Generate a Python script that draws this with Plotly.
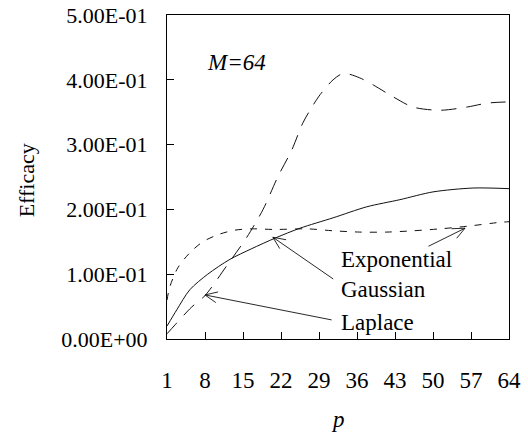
import math
import plotly.graph_objects as go

# Data
p_lap = [1, 2.5, 5.5, 8, 12, 15.7, 18.7, 21.4, 24, 26, 27.7, 29.2, 31.6, 33.5, 36.5, 39, 42.6, 46.3, 51.3, 56.3, 60, 64]
laplace = [0.008, 0.022, 0.049, 0.067, 0.113, 0.157, 0.2, 0.25, 0.292, 0.333, 0.358, 0.377, 0.40, 0.41, 0.403, 0.392, 0.374, 0.358, 0.353, 0.358, 0.364, 0.366]

p_gau = [1, 2.8, 5.2, 8.5, 12.6, 16.5, 21, 25.5, 31.6, 37.8, 43.9, 50, 57.4, 64]
gaussian = [0.02, 0.045, 0.076, 0.1, 0.123, 0.139, 0.156, 0.171, 0.187, 0.204, 0.215, 0.227, 0.233, 0.232]

p_exp = [1, 1.5, 3, 5.2, 7.6, 10.4, 13.5, 16.8, 20.8, 26.8, 31.6, 36.5, 41.5, 46.3, 51.3, 56.3, 62.3, 64]
exponential = [0.06, 0.08, 0.11, 0.133, 0.15, 0.161, 0.168, 0.17, 0.169, 0.17, 0.167, 0.165, 0.165, 0.167, 0.17, 0.174, 0.18, 0.181]

x_ticks = [1, 8, 15, 22, 29, 36, 43, 50, 57, 64]
y_ticks = [0, 0.1, 0.2, 0.3, 0.4, 0.5]
y_tick_text = ["0.00E+00", "1.00E-01", "2.00E-01", "3.00E-01", "4.00E-01", "5.00E-01"]

# label texts and arrow (head p, head value, tail p, tail value)
labels = ["Exponential", "Gaussian", "Laplace"]
label_y = [0.123, 0.077, 0.025]
arrows = [(55.9, 0.171, 48.9, 0.142), (20.5, 0.157, 31.9, 0.091), (8, 0.068, 31.6, 0.029)]

FONT = "Liberation Serif"
LC = "#111111"
W, H = 528, 438
ML, MR, MT, MB = 167, 19, 15, 99
XR, YR = (1, 64), (0, 0.5)
sx = (W - ML - MR) / (XR[1] - XR[0])
sy = (H - MT - MB) / (YR[1] - YR[0])

fig = go.Figure()
fig.add_trace(go.Scatter(x=p_lap, y=laplace, mode="lines", name="Laplace",
                         line=dict(color=LC, width=1, dash="15px,10px", shape="spline", smoothing=0.8)))
fig.add_trace(go.Scatter(x=p_gau, y=gaussian, mode="lines", name="Gaussian",
                         line=dict(color=LC, width=1, shape="spline", smoothing=0.8)))
fig.add_trace(go.Scatter(x=p_exp, y=exponential, mode="lines", name="Exponential",
                         line=dict(color=LC, width=1, dash="7px,8px", shape="spline", smoothing=0.8)))

ann = []
for txt, yv in zip(labels, label_y):
    ann.append(dict(x=32.7, y=yv, xref="x", yref="y", text=txt, showarrow=False,
                    xanchor="left", yanchor="middle", font=dict(family=FONT, size=23, color="black")))
for hx, hy, tx, ty in arrows:
    # shaft
    ann.append(dict(x=hx, y=hy, ax=tx, ay=ty, xref="x", yref="y", axref="x", ayref="y",
                    text="", showarrow=True, arrowhead=0, arrowwidth=0.9,
                    arrowcolor=LC, standoff=0, startstandoff=0))
    # open V-shaped head: two short legs
    dx = (tx - hx) * sx
    dy = -(ty - hy) * sy
    n = math.hypot(dx, dy)
    ux, uy = dx / n, dy / n
    for ang in (0.42, -0.42):
        c, s = math.cos(ang), math.sin(ang)
        lx = (ux * c - uy * s) * 15
        ly = (ux * s + uy * c) * 15
        ann.append(dict(x=hx, y=hy, ax=lx, ay=ly, xref="x", yref="y", axref="pixel", ayref="pixel",
                        text="", showarrow=True, arrowhead=0, arrowwidth=0.9,
                        arrowcolor=LC, standoff=0, startstandoff=0))
ann.append(dict(x=8, y=0.427, xref="x", yref="y", text="<i>M=64</i>", showarrow=False,
                xanchor="left", yanchor="middle", font=dict(family=FONT, size=23, color="black")))
ann.append(dict(x=0.5, y=0, xref="paper", yref="paper", yshift=-80, text="<i>p</i>", showarrow=False,
                xanchor="center", yanchor="middle", font=dict(family=FONT, size=23, color="black")))
ann.append(dict(x=-0.412, y=0.49, xref="paper", yref="paper", text="Efficacy", textangle=-90,
                showarrow=False, xanchor="center", yanchor="middle",
                font=dict(family=FONT, size=22, color="black")))

fig.update_layout(
    template="none",
    width=W, height=H,
    margin=dict(l=ML, r=MR, t=MT, b=MB, autoexpand=False),
    paper_bgcolor="white", plot_bgcolor="white",
    showlegend=False,
    annotations=ann,
    font=dict(family=FONT, size=22, color="black"),
)
fig.update_xaxes(range=list(XR), tickvals=x_ticks, ticktext=[str(v) for v in x_ticks],
                 ticks="inside", ticklen=7, tickcolor="black", tickwidth=1,
                 showline=True, linecolor="black", linewidth=1, mirror=True, automargin=False,
                 showgrid=False, zeroline=False, ticklabelstandoff=20,
                 tickfont=dict(family=FONT, size=23, color="black"))
fig.update_yaxes(range=list(YR), tickvals=y_ticks, ticktext=y_tick_text,
                 ticks="inside", ticklen=7, tickcolor="black", tickwidth=1,
                 showline=True, linecolor="black", linewidth=1, mirror=True, automargin=False,
                 showgrid=False, zeroline=False, ticklabelstandoff=14,
                 tickfont=dict(family=FONT, size=22, color="black"))

fig.write_html("out.html", config={"displayModeBar": False},
               post_script="document.body.style.margin='0';document.body.style.overflow='hidden';")
